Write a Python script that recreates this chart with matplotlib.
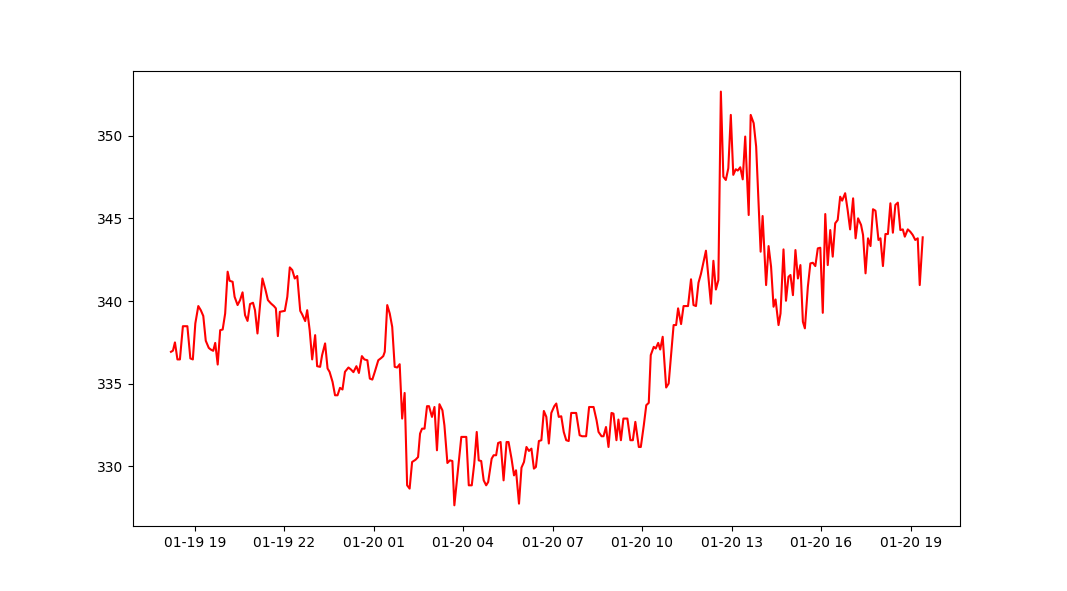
import pandas as pd
import matplotlib
matplotlib.use("Agg")
import matplotlib.pyplot as plt
import matplotlib.dates as mdates

# minutes after 01-19 18:00
minutes = [
    12, 16, 20, 25, 30, 36, 45, 51, 56, 61, 67, 72, 77, 82, 88, 92, 97, 101,
    106, 111, 116, 121, 126, 130, 136, 140, 146, 151, 156, 161, 166, 171, 177,
    181, 186, 196, 202, 207, 213, 219, 223, 227, 231, 241, 246, 251, 256, 261,
    266, 272, 276, 282, 286, 291, 296, 302, 306, 312, 316, 322, 327, 331, 337,
    342, 347, 352, 357, 362, 369, 374, 379, 385, 390, 396, 401, 407, 412, 417,
    422, 429, 435, 439, 442, 447, 452, 457, 462, 467, 472, 477, 482, 487, 492,
    497, 504, 509, 513, 517, 522, 527, 531, 537, 542, 547, 552, 558, 562, 568,
    573, 578, 582, 596, 606, 611, 617, 622, 627, 631, 636, 641, 646, 650, 657,
    661, 666, 670, 675, 681, 687, 691, 697, 702, 706, 712, 717, 722, 727, 732,
    737, 742, 746, 752, 757, 762, 767, 772, 777, 783, 787, 792, 797, 802, 807,
    812, 817, 827, 834, 839, 847, 853, 862, 868, 872, 878, 882, 887, 892, 898,
    902, 908, 912, 917, 922, 930, 936, 941, 946, 953, 957, 963, 968, 973, 977,
    983, 987, 992, 996, 1001, 1008, 1013, 1023, 1028, 1032, 1038, 1043, 1052,
    1058, 1063, 1068, 1073, 1078, 1088, 1098, 1103, 1108, 1113, 1118, 1123,
    1128, 1133, 1138, 1143, 1148, 1152, 1157, 1162, 1167, 1174, 1178, 1184,
    1189, 1198, 1202, 1209, 1214, 1219, 1224, 1228, 1234, 1238, 1244, 1249,
    1254, 1258, 1263, 1268, 1273, 1278, 1283, 1287, 1293, 1298, 1303, 1308,
    1313, 1318, 1323, 1328, 1333, 1338, 1343, 1348, 1353, 1358, 1362, 1368,
    1373, 1378, 1384, 1389, 1394, 1400, 1404, 1409, 1414, 1419, 1424, 1429,
    1435, 1439, 1444, 1449, 1454, 1459, 1464, 1469, 1474, 1479, 1484, 1488,
    1494, 1499, 1504, 1509, 1514, 1518, 1524,
]

price = [
    336.93, 337.00, 337.50, 336.47, 336.47, 338.48, 338.48, 336.53, 336.47,
    338.65, 339.70, 339.45, 339.10, 337.60, 337.17, 337.07, 336.99, 337.47,
    336.16, 338.24, 338.28, 339.25, 341.78, 341.23, 341.17, 340.26, 339.76,
    340.06, 340.53, 339.15, 338.80, 339.82, 339.90, 339.45, 338.04, 341.37,
    340.70, 340.06, 339.86, 339.70, 339.56, 337.88, 339.35, 339.41, 340.26,
    342.04, 341.88, 341.37, 341.52, 339.41, 339.19, 338.79, 339.45, 338.24,
    336.47, 337.94, 336.06, 336.02, 336.73, 337.44, 335.92, 335.72, 335.11,
    334.30, 334.30, 334.75, 334.65, 335.72, 335.98, 335.86, 335.70, 336.06,
    335.65, 336.67, 336.47, 336.42, 335.31, 335.25, 335.72, 336.42, 336.56,
    336.67, 336.93, 339.76, 339.25, 338.44, 336.02, 335.98, 336.18, 332.89,
    334.44, 328.85, 328.65, 330.26, 330.40, 330.56, 331.98, 332.28, 332.28,
    333.64, 333.64, 332.99, 333.59, 330.97, 333.76, 333.39, 332.48, 330.20,
    330.36, 330.32, 327.64, 331.78, 331.78, 328.85, 328.85, 330.16, 332.08,
    330.36, 330.32, 329.15, 328.85, 329.05, 330.46, 330.67, 330.67, 331.41,
    331.47, 329.15, 331.47, 331.47, 330.46, 329.45, 329.76, 327.74, 329.92,
    330.26, 331.17, 330.93, 331.07, 329.86, 329.96, 331.53, 331.58, 333.35,
    332.99, 331.38, 333.23, 333.64, 333.80, 332.99, 333.03, 332.08, 331.58,
    331.53, 333.23, 333.23, 331.88, 331.82, 331.82, 333.59, 333.59, 332.79,
    332.08, 331.82, 331.82, 332.38, 331.17, 333.23, 333.19, 331.58, 332.83,
    331.58, 332.89, 332.89, 331.58, 331.58, 332.69, 331.17, 331.17, 332.48,
    333.70, 333.84, 336.73, 337.23, 337.13, 337.47, 337.07, 337.84, 334.77,
    335.01, 338.55, 338.55, 339.56, 338.61, 339.70, 339.70, 341.32, 339.76,
    339.70, 341.11, 341.65, 343.05, 339.84, 342.44, 340.70, 341.27, 352.68,
    347.53, 347.33, 348.04, 351.27, 347.64, 347.98, 347.90, 348.10, 347.37,
    349.96, 345.21, 351.27, 350.77, 349.35, 342.99, 345.15, 340.97, 343.33,
    342.08, 339.66, 340.10, 338.55, 339.25, 343.13, 340.02, 341.47, 341.58,
    340.36, 343.09, 341.37, 342.18, 338.75, 338.35, 340.87, 342.28, 342.32,
    342.12, 343.19, 343.23, 339.29, 345.27, 342.18, 344.30, 342.69, 344.71,
    344.91, 346.32, 346.08, 346.53, 345.52, 344.34, 346.22, 343.80, 345.01,
    344.61, 344.00, 341.68, 343.80, 343.33, 345.56, 345.47, 343.70, 343.80,
    342.12, 344.06, 344.06, 345.92, 344.14, 345.82, 345.96, 344.30, 344.34,
    343.90, 344.34, 344.20, 344.00, 343.70, 343.80, 340.97, 343.86,
]

start = pd.Timestamp("2024-01-19 18:00")
times = start + pd.to_timedelta(minutes, unit="min")

fig, ax = plt.subplots(figsize=(10.67, 5.91), dpi=100)
ax.plot(times, price, color="red")

# ticks every 3 hours at 19, 22, 01, ...
ax.xaxis.set_major_locator(mdates.HourLocator(byhour=range(1, 24, 3)))
ax.xaxis.set_major_formatter(mdates.DateFormatter("%m-%d %H"))

fig.savefig("out.png", dpi=100)
